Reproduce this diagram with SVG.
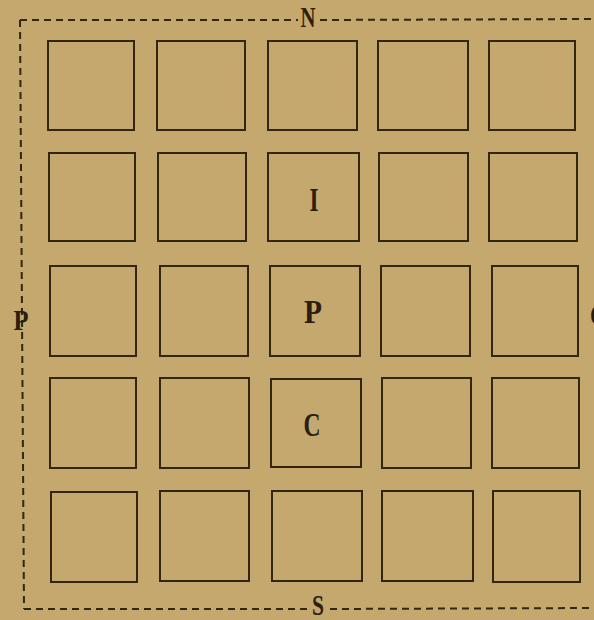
<svg xmlns="http://www.w3.org/2000/svg" width="594" height="620" viewBox="0 0 594 620">
  <style>
    .bg { fill: #c4a86d; }
    .sq { fill: none; stroke: #33260f; stroke-width: 2; }
    .dash { fill: none; stroke: #33260f; stroke-width: 2; stroke-dasharray: 7 5; }
    .lbl { font-family: "Liberation Serif", "Times New Roman", serif; fill: #2a1f0e; text-anchor: middle; }
    .big { font-size: 34px; font-weight: bold; }
    .edge { font-size: 29px; font-weight: bold; }
  </style>
  <rect class="bg" x="0" y="0" width="594" height="620"/>
  <g id="connectors">
    <path class="dash" d="M20,20 L298,20"/>
    <path class="dash" d="M320,20 L594,19"/>
    <path class="dash" d="M20,20 L24,609"/>
    <path class="dash" d="M24,609 L308,609"/>
    <path class="dash" d="M330,609 L594,608"/>
  </g>
  <g id="row1">
    <rect id="r1c1" class="sq" x="48" y="41" width="86" height="89"/>
    <rect id="r1c2" class="sq" x="157" y="41" width="88" height="89"/>
    <rect id="r1c3" class="sq" x="268" y="41" width="89" height="89"/>
    <rect id="r1c4" class="sq" x="378" y="41" width="90" height="89"/>
    <rect id="r1c5" class="sq" x="489" y="41" width="86" height="89"/>
  </g>
  <g id="row2">
    <rect id="r2c1" class="sq" x="49" y="153" width="86" height="88"/>
    <rect id="r2c2" class="sq" x="158" y="153" width="88" height="88"/>
    <g id="nodeI">
      <rect class="sq" x="268" y="153" width="91" height="88"/>
      <text class="lbl big" x="314" y="211" textLength="9" lengthAdjust="spacingAndGlyphs">I</text>
    </g>
    <rect id="r2c4" class="sq" x="379" y="153" width="89" height="88"/>
    <rect id="r2c5" class="sq" x="489" y="153" width="88" height="88"/>
  </g>
  <g id="row3">
    <rect id="r3c1" class="sq" x="50" y="266" width="86" height="90"/>
    <rect id="r3c2" class="sq" x="160" y="266" width="88" height="90"/>
    <g id="nodeP">
      <rect class="sq" x="270" y="266" width="90" height="90"/>
      <text class="lbl big" x="313" y="323" textLength="18" lengthAdjust="spacingAndGlyphs">P</text>
    </g>
    <rect id="r3c4" class="sq" x="381" y="266" width="89" height="90"/>
    <rect id="r3c5" class="sq" x="492" y="266" width="86" height="90"/>
  </g>
  <g id="row4">
    <rect id="r4c1" class="sq" x="50" y="378" width="86" height="90"/>
    <rect id="r4c2" class="sq" x="160" y="378" width="89" height="90"/>
    <g id="nodeC">
      <rect class="sq" x="271" y="379" width="90" height="88"/>
      <text class="lbl big" x="312" y="436" textLength="17" lengthAdjust="spacingAndGlyphs">C</text>
    </g>
    <rect id="r4c4" class="sq" x="382" y="378" width="89" height="90"/>
    <rect id="r4c5" class="sq" x="492" y="378" width="87" height="90"/>
  </g>
  <g id="row5">
    <rect id="r5c1" class="sq" x="51" y="492" width="86" height="90"/>
    <rect id="r5c2" class="sq" x="160" y="491" width="89" height="90"/>
    <rect id="r5c3" class="sq" x="272" y="491" width="90" height="90"/>
    <rect id="r5c4" class="sq" x="382" y="491" width="91" height="90"/>
    <rect id="r5c5" class="sq" x="493" y="491" width="87" height="91"/>
  </g>
  <g id="labels">
    <text id="N" class="lbl edge" x="308" y="27" textLength="15" lengthAdjust="spacingAndGlyphs">N</text>
    <text id="S" class="lbl edge" x="318" y="615" textLength="12" lengthAdjust="spacingAndGlyphs">S</text>
    <text id="Pw" class="lbl edge" x="21" y="330" textLength="15" lengthAdjust="spacingAndGlyphs">P</text>
    <text id="Oe" class="lbl edge" x="599" y="325" textLength="18" lengthAdjust="spacingAndGlyphs">O</text>
  </g>
</svg>
